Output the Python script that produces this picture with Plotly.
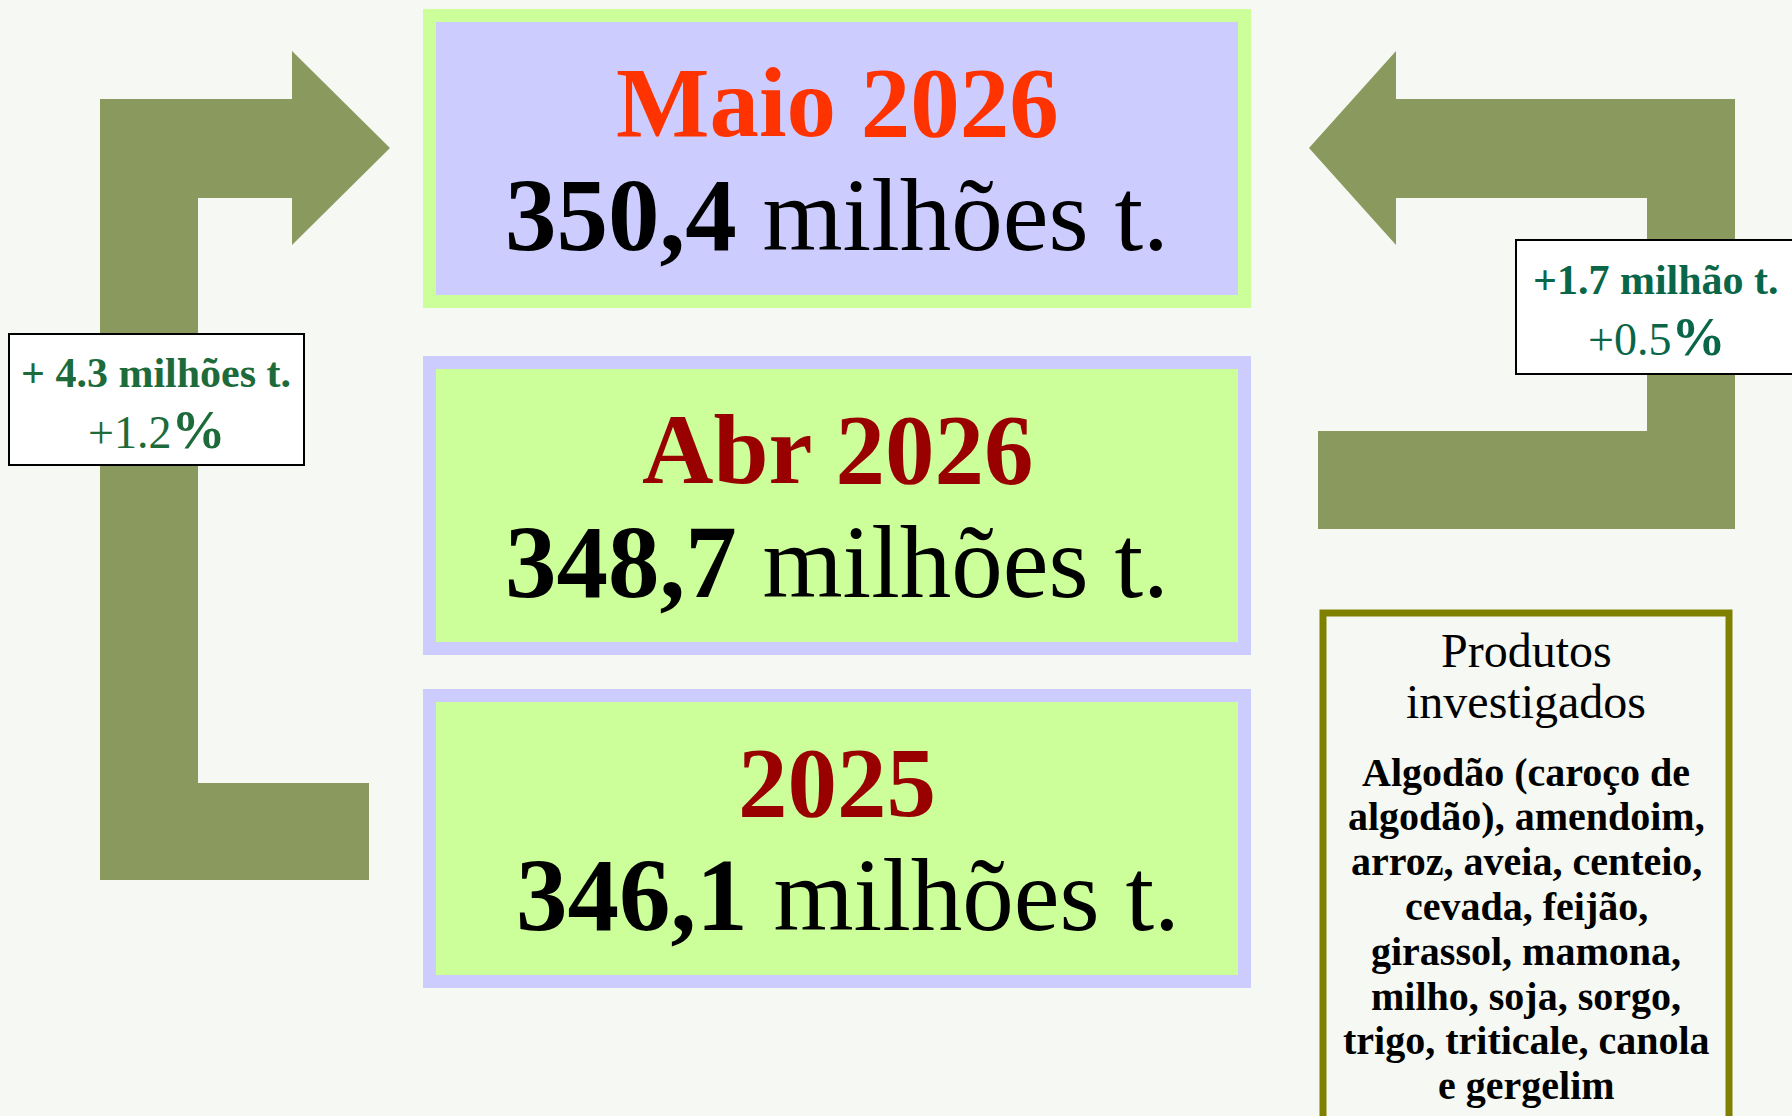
import plotly.graph_objects as go

# ---------------- data ----------------
periods = ["Maio 2026", "Abr 2026", "2025"]
production = [350.4, 348.7, 346.1]          # milhões de toneladas
unit = "milhões t."
change_vs_2025_abs = 4.3                     # milhões t.
change_vs_2025_pct = 1.2                     # %
change_vs_abr_abs = 1.7                      # milhão t.
change_vs_abr_pct = 0.5                      # %
products_title = ["Produtos", "investigados"]
products_lines = [
    "Algodão (caroço de",
    "algodão), amendoim,",
    "arroz, aveia, centeio,",
    "cevada, feijão,",
    "girassol, mamona,",
    "milho, soja, sorgo,",
    "trigo, triticale, canola",
    "e gergelim",
]

# ---------------- style / layout ----------------
W, H = 1792, 1116
BG = "#f6f8f3"
ARROW = "#8a9a5f"
LAV = "#ccccff"
LGREEN = "#ccff99"
SERIF = "Palatino Linotype, Book Antiqua, Palatino, Liberation Serif, serif"
TIMES = "Times New Roman, Liberation Serif, serif"

fig = go.Figure()
fig.add_trace(go.Scatter(x=[0, W], y=[0, H], mode="markers",
                         marker=dict(opacity=0), hoverinfo="skip", showlegend=False))

shapes = []
annotations = []

# arrows
left_arrow = ("M100,99 L292,99 L292,51 L390,148 L292,245 L292,198 L198,198 "
              "L198,783 L369,783 L369,880 L100,880 Z")
right_arrow = ("M1735,99 L1396,99 L1396,51 L1309,148 L1396,245 L1396,198 L1647,198 "
               "L1647,431 L1318,431 L1318,529 L1735,529 Z")
for p in (left_arrow, right_arrow):
    shapes.append(dict(type="path", path=p, xref="x", yref="y",
                       fillcolor=ARROW, line=dict(width=0), layer="below"))

# main boxes
box_tops = [9, 356, 689]
box_h = 299
bx0, bx1 = 423, 1251
bw = 13
title_colors = ["#ff3300", "#990000", "#990000"]
border_colors = [LGREEN, LAV, LAV]
fill_colors = [LAV, LGREEN, LGREEN]
num_shift = [0, 0, 11]
for i, (per, val) in enumerate(zip(periods, production)):
    t = box_tops[i]
    shapes.append(dict(type="rect", x0=bx0, x1=bx1, y0=t, y1=t + box_h, xref="x", yref="y",
                       fillcolor=border_colors[i], line=dict(width=0), layer="below"))
    shapes.append(dict(type="rect", x0=bx0 + bw, x1=bx1 - bw, y0=t + bw, y1=t + box_h - bw,
                       xref="x", yref="y", fillcolor=fill_colors[i], line=dict(width=0),
                       layer="below"))
    annotations.append(dict(x=(bx0 + bx1) / 2, y=t + 93, xref="x", yref="y",
                            text=f"<b>{per}</b>", showarrow=False,
                            xanchor="center", yanchor="middle",
                            font=dict(family=SERIF, size=99, color=title_colors[i])))
    val_txt = f"{val:.1f}".replace(".", ",")
    annotations.append(dict(x=(bx0 + bx1) / 2 + num_shift[i], y=t + 206, xref="x", yref="y",
                            text=f"<b>{val_txt}</b> {unit}", showarrow=False,
                            xanchor="center", yanchor="middle",
                            font=dict(family=SERIF, size=103, color="#000000")))

# change label boxes
shapes.append(dict(type="rect", x0=9, x1=304, y0=334, y1=465, xref="x", yref="y",
                   fillcolor="#ffffff", line=dict(color="#000000", width=2)))
shapes.append(dict(type="rect", x0=1516, x1=1800, y0=240, y1=374, xref="x", yref="y",
                   fillcolor="#ffffff", line=dict(color="#000000", width=2)))

LCOL = "#1d6b3b"
RCOL = "#0a6648"
annotations.append(dict(x=156, y=373, xref="x", yref="y", showarrow=False,
                        text=f"<b>+ {change_vs_2025_abs:.1f} milhões t.</b>",
                        font=dict(family=TIMES, size=42, color=LCOL)))
annotations.append(dict(x=156, y=430, xref="x", yref="y", showarrow=False,
                        text=f"+{change_vs_2025_pct:.1f}<span style='font-size:54px'><b>%</b></span>",
                        font=dict(family=TIMES, size=46, color=LCOL)))
annotations.append(dict(x=1656, y=280, xref="x", yref="y", showarrow=False,
                        text=f"<b>+{change_vs_abr_abs:.1f} milhão t.</b>",
                        font=dict(family=TIMES, size=42, color=RCOL)))
annotations.append(dict(x=1656, y=337, xref="x", yref="y", showarrow=False,
                        text=f"+{change_vs_abr_pct:.1f}<span style='font-size:54px'><b>%</b></span>",
                        font=dict(family=TIMES, size=46, color=RCOL)))

# products box
shapes.append(dict(type="rect", x0=1323, x1=1729, y0=613, y1=1130, xref="x", yref="y",
                   fillcolor=BG, line=dict(color="#808000", width=7)))
for j, line in enumerate(products_title):
    annotations.append(dict(x=1526, y=650 + j * 51, xref="x", yref="y", showarrow=False,
                            text=line, font=dict(family=SERIF, size=48, color="#000000")))
for j, line in enumerate(products_lines):
    annotations.append(dict(x=1526, y=772 + j * 44.8, xref="x", yref="y", showarrow=False,
                            text=f"<b>{line}</b>",
                            font=dict(family=SERIF, size=40, color="#000000")))

fig.update_layout(
    width=W, height=H,
    margin=dict(l=0, r=0, t=0, b=0),
    paper_bgcolor=BG, plot_bgcolor=BG,
    xaxis=dict(range=[0, W], visible=False, fixedrange=True),
    yaxis=dict(range=[H, 0], visible=False, fixedrange=True),
    shapes=shapes, annotations=annotations,
    showlegend=False,
)

fig.write_html("out.html", config={"displayModeBar": False},
               post_script="document.body.style.margin='0';document.body.style.background='%s';" % BG)
